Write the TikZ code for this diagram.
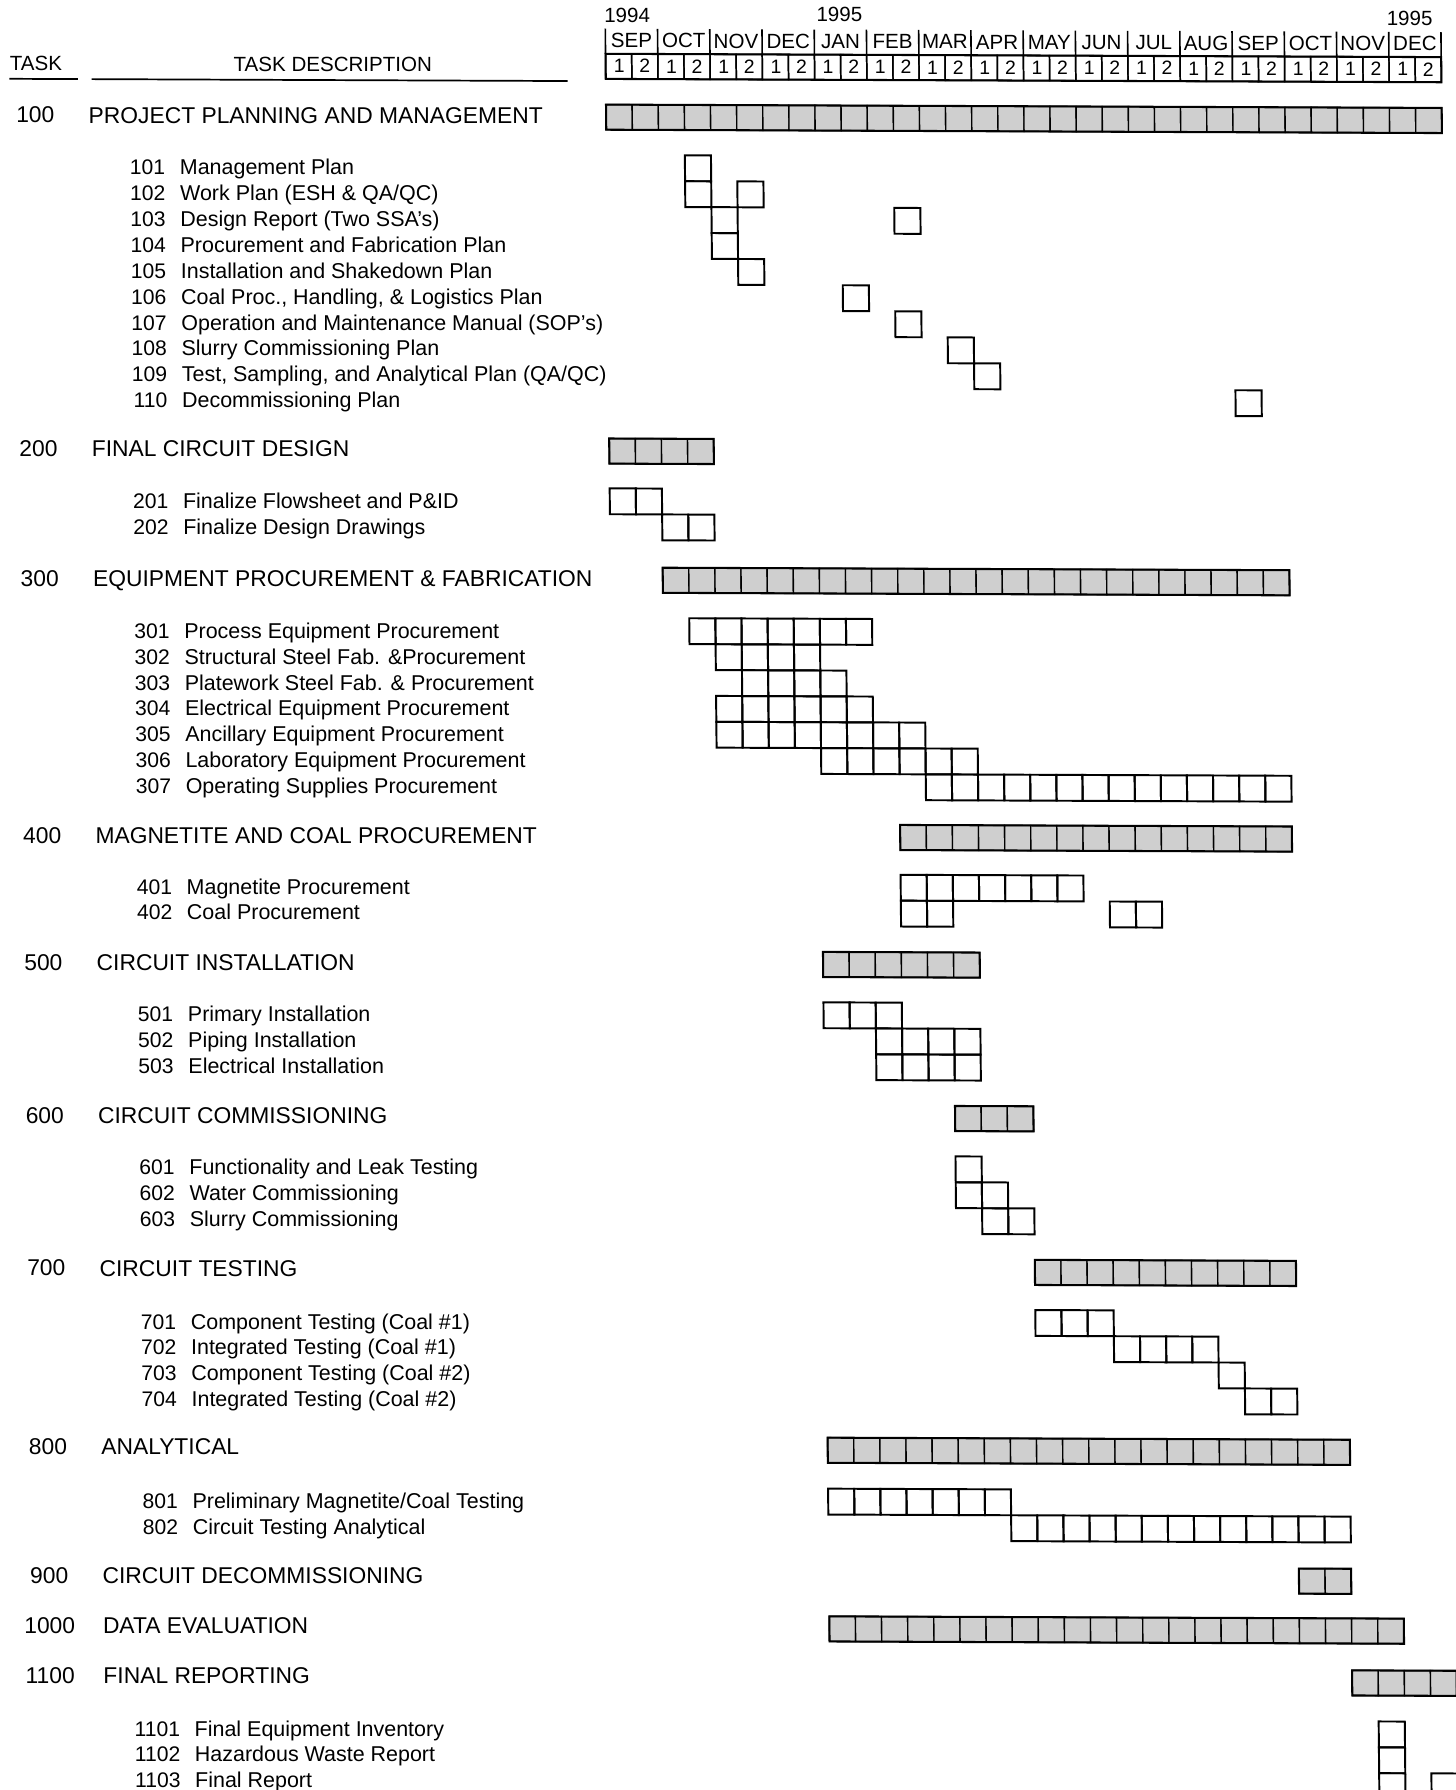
\documentclass[tikz,border=0pt]{standalone}
\usepackage{fontspec}
\setmainfont{Liberation Sans}
\newcommand\ganttcells[3]{%
  \foreach \ci in {#2,...,#3}{%
    \draw[cellbox] ({530+22.875*\ci},{#1-11.33}) rectangle ++(22.875,22.66);}}
\newcommand\ganttbar[3]{%
  \foreach \ci in {#2,...,#3}{%
    \draw[barcell] ({530+22.875*\ci},{#1-11}) rectangle ++(22.875,22);}
  \draw[barframe] ({530+22.875*#2},{#1-11}) rectangle ({530+22.875*(#3+1)},{#1+11});}
\newcommand\headrow[4]{%
  \node[headnum] (#1n) at (30,#2) {#3};
  \node[head] (#1t) at (76.5,#2) {#4};}
\newcommand\subrow[4]{%
  \node[subnum] (#1n) at (143.5,#2) {#3};
  \node[subtxt] (#1t) at (156,#2) {#4};}
\begin{document}
\begin{tikzpicture}[x=1pt,y=-1pt,
  txt/.style={inner sep=0pt, text height=0.72em, text depth=0pt, yshift=-3pt},
  head/.style={txt, font=\fontsize{20}{24}\selectfont, anchor=west},
  headnum/.style={txt, font=\fontsize{20}{24}\selectfont, anchor=center},
  subnum/.style={txt, font=\fontsize{18.5}{22}\selectfont, anchor=east},
  subtxt/.style={txt, font=\fontsize{18.8}{22}\selectfont, anchor=west},
  hdr/.style={txt, font=\fontsize{18}{22}\selectfont},
  numtxt/.style={txt, font=\fontsize{17}{20}\selectfont},
  cellbox/.style={draw=black, line width=1.7pt},
  barcell/.style={draw=black, line width=1.2pt, fill=black!19},
  barframe/.style={draw=black, line width=1.8pt},
  rule/.style={line width=1.5pt},
]
\useasboundingbox (0,0) rectangle (1275,1568);
\fill[white] (0,0) rectangle (1275,1568);
\begin{scope}[cm={1,-0.004,-0.0095,1,(0,0)}]
% ---------- header ----------
\node[hdr, anchor=center] (task) at (31,55) {TASK};
\node[hdr, anchor=center] (desc) at (291,55) {TASK DESCRIPTION};
\draw[rule] (7.5,69) -- (67.5,69);
\draw[rule] (79.5,69) -- (496.5,69);
\node[hdr, anchor=west] (y94) at (529,11) {1994};
\node[hdr, anchor=west] (y95a) at (715,9.5) {1995};
\node[hdr, anchor=west] (y95b) at (1214.5,11) {1995};
\foreach \m [count=\i from 0] in {SEP,OCT,NOV,DEC,JAN,FEB,MAR,APR,MAY,JUN,JUL,AUG,SEP,OCT,NOV,DEC}{
  \node[hdr, anchor=center] (mon\i) at ({530+45.75*\i+22.875},33) {\m};}
\foreach \i in {0,...,16}{
  \draw[line width=1.4pt] ({530+45.75*\i},23) -- ({530+45.75*\i},45);}
\foreach \ci in {0,...,31}{
  \draw[line width=1.3pt] ({530+22.875*\ci},45) rectangle ++(22.875,22);}
\draw[line width=1.8pt] (530,45) rectangle (1262,67);
\foreach \i in {0,...,15}{
  \node[numtxt, anchor=center] (na\i) at ({530+45.75*\i+11.9},55) {1};
  \node[numtxt, anchor=center] (nb\i) at ({530+45.75*\i+34.3},55) {2};}
% ---------- 100 ----------
\headrow{h1}{101}{100}{PROJECT PLANNING AND MANAGEMENT}
\ganttbar{100.5}{0}{31}
\subrow{s101}{146}{101}{Management Plan}
\subrow{s102}{168.65}{102}{Work Plan (ESH \& QA/QC)}
\subrow{s103}{191.3}{103}{Design Report (Two SSA's)}
\subrow{s104}{213.95}{104}{Procurement and Fabrication Plan}
\subrow{s105}{236.6}{105}{Installation and Shakedown Plan}
\subrow{s106}{259.25}{106}{Coal Proc., Handling, \& Logistics Plan}
\subrow{s107}{281.9}{107}{Operation and Maintenance Manual (SOP's)}
\subrow{s108}{304.55}{108}{Slurry Commissioning Plan}
\subrow{s109}{327.2}{109}{Test, Sampling, and Analytical Plan (QA/QC)}
\subrow{s110}{349.85}{110}{Decommissioning Plan}
\ganttcells{145}{3}{3}
\ganttcells{167.65}{3}{3}\ganttcells{167.65}{5}{5}
\ganttcells{190.3}{4}{4}\ganttcells{190.3}{11}{11}
\ganttcells{212.95}{4}{4}
\ganttcells{235.6}{5}{5}
\ganttcells{258.25}{9}{9}
\ganttcells{280.9}{11}{11}
\ganttcells{303.55}{13}{13}
\ganttcells{326.2}{14}{14}
\ganttcells{348.85}{24}{24}
% ---------- 200 ----------
\headrow{h2}{393}{200}{FINAL CIRCUIT DESIGN}
\ganttbar{393}{0}{3}
\subrow{s201}{438}{201}{Finalize Flowsheet and P\&ID}
\subrow{s202}{460.65}{202}{Finalize Design Drawings}
\ganttcells{437}{0}{1}
\ganttcells{459.65}{2}{3}
% ---------- 300 ----------
\headrow{h3}{507}{300}{EQUIPMENT PROCUREMENT \& FABRICATION}
\ganttbar{506}{2}{25}
\subrow{s301}{552}{301}{Process Equipment Procurement}
\subrow{s302}{574.65}{302}{Structural Steel Fab. \&Procurement}
\subrow{s303}{597.3}{303}{Platework Steel Fab. \& Procurement}
\subrow{s304}{619.95}{304}{Electrical Equipment Procurement}
\subrow{s305}{642.6}{305}{Ancillary Equipment Procurement}
\subrow{s306}{665.25}{306}{Laboratory Equipment Procurement}
\subrow{s307}{687.9}{307}{Operating Supplies Procurement}
\ganttcells{550.5}{3}{9}
\ganttcells{573.15}{4}{7}
\ganttcells{595.8}{5}{8}
\ganttcells{618.45}{4}{9}
\ganttcells{641.1}{4}{11}
\ganttcells{663.75}{8}{13}
\ganttcells{686.4}{12}{25}
% ---------- 400 ----------
\headrow{h4}{732}{400}{MAGNETITE AND COAL PROCUREMENT}
\ganttbar{730.5}{11}{25}
\subrow{s401}{776}{401}{Magnetite Procurement}
\subrow{s402}{798.65}{402}{Coal Procurement}
\ganttcells{774.5}{11}{17}
\ganttcells{797.15}{11}{12}\ganttcells{797.15}{19}{20}
% ---------- 500 ----------
\headrow{h5}{843}{500}{CIRCUIT INSTALLATION}
\ganttbar{842}{8}{13}
\subrow{s501}{888}{501}{Primary Installation}
\subrow{s502}{910.65}{502}{Piping Installation}
\subrow{s503}{933.3}{503}{Electrical Installation}
\ganttcells{886.5}{8}{10}
\ganttcells{909.15}{10}{13}
\ganttcells{931.8}{10}{13}
% ---------- 600 ----------
\headrow{h6}{977}{600}{CIRCUIT COMMISSIONING}
\ganttbar{976.5}{13}{15}
\subrow{s601}{1022}{601}{Functionality and Leak Testing}
\subrow{s602}{1044.65}{602}{Water Commissioning}
\subrow{s603}{1067.3}{603}{Slurry Commissioning}
\ganttcells{1021}{13}{13}
\ganttcells{1043.65}{13}{14}
\ganttcells{1066.3}{14}{15}
% ---------- 700 ----------
\headrow{h7}{1111}{700}{CIRCUIT TESTING}
\ganttbar{1111}{16}{25}
\subrow{s701}{1157}{701}{Component Testing (Coal \#1)}
\subrow{s702}{1179.65}{702}{Integrated Testing (Coal \#1)}
\subrow{s703}{1202.3}{703}{Component Testing (Coal \#2)}
\subrow{s704}{1224.95}{704}{Integrated Testing (Coal \#2)}
\ganttcells{1155.3}{16}{18}
\ganttcells{1177.95}{19}{22}
\ganttcells{1200.6}{23}{23}
\ganttcells{1223.25}{24}{25}
% ---------- 800 ----------
\headrow{h8}{1267}{800}{ANALYTICAL}
\ganttbar{1267.5}{8}{27}
\subrow{s801}{1314}{801}{Preliminary Magnetite/Coal Testing}
\subrow{s802}{1336.65}{802}{Circuit Testing Analytical}
\ganttcells{1312.5}{8}{14}
\ganttcells{1335.15}{15}{27}
% ---------- 900 / 1000 ----------
\headrow{h9}{1380}{900}{CIRCUIT DECOMMISSIONING}
\ganttbar{1380.5}{26}{27}
\headrow{h10}{1424}{1000}{DATA EVALUATION}
\ganttbar{1424}{8}{29}
% ---------- 1100 ----------
\headrow{h11}{1468}{1100}{FINAL REPORTING}
\ganttbar{1469.5}{28}{31}
\subrow{s1101}{1514}{1101}{Final Equipment Inventory}
\subrow{s1102}{1536.2}{1102}{Hazardous Waste Report}
\subrow{s1103}{1558.4}{1103}{Final Report}
\ganttcells{1514.5}{29}{29}
\ganttcells{1537.15}{29}{29}
\ganttcells{1559.8}{29}{29}\ganttcells{1559.8}{31}{31}
\end{scope}
\end{tikzpicture}
\end{document}
